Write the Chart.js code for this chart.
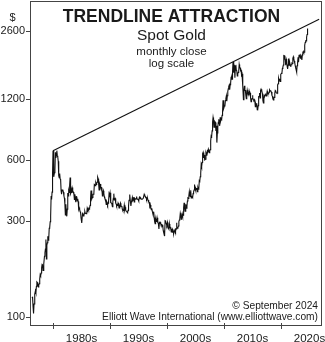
<!DOCTYPE html>
<html>
<head>
<meta charset="utf-8">
<script src="https://cdn.jsdelivr.net/npm/chart.js@4.4.1/dist/chart.umd.min.js"></script>
<style>
  html, body { margin: 0; padding: 0; background: #fff; }
  #wrap { width: 325px; height: 342px; }
</style>
</head>
<body>
<div id="wrap"><canvas id="goldChart" width="325" height="342"></canvas></div>
<script>
// spot gold, monthly closes in US$, May 1976 .. Sep 2024
const startYear = 1976;
const startMonth = 5;
const monthlyClose = [
  126, 124, 112, 104, 116, 123, 130, 135,
  132, 142, 149, 148, 143, 141, 144, 146, 154, 162, 160, 165,
  175, 182, 181, 170, 184, 183, 200, 208, 217, 242, 194, 226,
  233, 251, 240, 245, 275, 277, 296, 315, 397, 382, 415, 512,
  665, 637, 494, 518, 535, 653, 614, 631, 666, 629, 619, 590,
  500, 489, 513, 482, 480, 422, 406, 425, 428, 427, 414, 397,
  387, 362, 320, 361, 326, 315, 342, 411, 397, 423, 414, 448,
  490, 408, 414, 429, 437, 413, 422, 414, 405, 382, 405, 382,
  370, 395, 394, 375, 384, 373, 342, 348, 341, 333, 329, 309,
  303, 292, 325, 322, 316, 317, 327, 333, 326, 326, 325, 327,
  345, 339, 345, 340, 342, 346, 357, 384, 423, 401, 383, 391,
  405, 405, 409, 453, 451, 447, 462, 453, 460, 465, 492, 484,
  458, 426, 457, 449, 455, 436, 437, 427, 397, 412, 422, 410,
  394, 387, 383, 377, 361, 373, 368, 359, 366, 375, 408, 401,
  412, 407, 368, 367, 363, 352, 372, 387, 408, 380, 384, 386,
  366, 363, 355, 358, 357, 367, 362, 347, 354, 357, 366, 353,
  354, 353, 341, 336, 337, 343, 357, 340, 349, 339, 334, 333,
  330, 328, 337, 354, 378, 378, 404, 372, 355, 370, 370, 391,
  377, 381, 392, 371, 387, 385, 384, 385, 395, 383, 383, 383,
  375, 376, 392, 389, 385, 387, 383, 383, 383, 383, 387, 387,
  405, 400, 396, 392, 391, 382, 385, 387, 379, 379, 371, 369,
  345, 358, 348, 340, 345, 334, 326, 325, 332, 311, 296, 290,
  305, 297, 301, 310, 293, 296, 288, 273, 294, 292, 294, 288,
  287, 288, 280, 286, 268, 262, 256, 255, 300, 299, 292, 290,
  284, 294, 279, 275, 272, 289, 277, 278, 273, 264, 270, 273,
  265, 267, 258, 264, 268, 271, 266, 273, 293, 279, 275, 277,
  282, 297, 302, 308, 326, 318, 305, 313, 324, 316, 319, 347,
  368, 350, 334, 336, 361, 346, 354, 375, 388, 386, 398, 417,
  399, 395, 424, 388, 393, 395, 391, 408, 416, 425, 453, 435,
  422, 435, 428, 435, 417, 437, 429, 433, 473, 470, 495, 513,
  569, 556, 582, 644, 653, 613, 633, 624, 600, 604, 646, 632,
  650, 665, 662, 677, 659, 650, 665, 673, 743, 789, 783, 834,
  923, 971, 934, 871, 885, 930, 918, 833, 884, 730, 814, 869,
  919, 952, 916, 884, 975, 934, 955, 949, 996, 1040, 1182, 1088,
  1078, 1109, 1115, 1180, 1207, 1244, 1169, 1246, 1307, 1346, 1383, 1405,
  1333, 1411, 1439, 1535, 1536, 1505, 1628, 1830, 1620, 1722, 1746, 1531,
  1744, 1770, 1662, 1651, 1559, 1598, 1622, 1648, 1776, 1720, 1714, 1657,
  1664, 1579, 1598, 1469, 1394, 1192, 1314, 1394, 1326, 1324, 1253, 1205,
  1251, 1326, 1292, 1288, 1250, 1315, 1285, 1286, 1217, 1164, 1182, 1206,
  1251, 1214, 1187, 1180, 1191, 1171, 1098, 1135, 1115, 1142, 1061, 1060,
  1111, 1234, 1237, 1285, 1214, 1321, 1342, 1309, 1322, 1273, 1178, 1146,
  1212, 1248, 1245, 1266, 1266, 1242, 1269, 1311, 1283, 1271, 1275, 1297,
  1331, 1318, 1324, 1315, 1298, 1250, 1237, 1202, 1187, 1215, 1222, 1279,
  1321, 1313, 1292, 1284, 1283, 1409, 1427, 1520, 1485, 1511, 1465, 1515,
  1589, 1609, 1608, 1702, 1728, 1768, 1970, 1968, 1886, 1879, 1762, 1895,
  1863, 1743, 1691, 1769, 1903, 1763, 1814, 1814, 1743, 1769, 1774, 1806,
  1797, 1909, 1942, 1897, 1849, 1817, 1753, 1711, 1672, 1633, 1753, 1812,
  1928, 1827, 1969, 1990, 1963, 1912, 1965, 1942, 1871, 1984, 2036, 2063,
  2039, 2045, 2214, 2286, 2327, 2327, 2427, 2503, 2680
];

// trendline through the 1980 and 2011 highs
const trendStart = [1980.0, 665];
const trendEnd = [2026.7, 2980];

const yTicks = [100, 300, 600, 1200, 2600];
const decadeTicks = [1980, 1990, 2000, 2010, 2020];

const FONT = '"Liberation Sans", Arial, Helvetica, sans-serif';
const INK = '#1a1a1a';
const FRAME = '#444';

const goldPoints = monthlyClose.map((v, i) => ({
  x: startYear + (startMonth - 1 + i) / 12,
  y: v
}));

const trendPoints = [
  { x: trendStart[0], y: trendStart[1] },
  { x: trendEnd[0], y: trendEnd[1] }
];

// frame, tick marks and the text inside the plot
const decorations = {
  id: 'decorations',
  afterDraw(chart) {
    const ctx = chart.ctx;
    const area = chart.chartArea;
    const xs = chart.scales.x;
    const ys = chart.scales.y;

    ctx.save();
    ctx.strokeStyle = FRAME;
    ctx.lineWidth = 1;
    ctx.strokeRect(Math.round(area.left) + 0.5, Math.round(area.top) + 0.5,
      Math.round(area.right - area.left) - 1, Math.round(area.bottom - area.top) - 1);

    ctx.beginPath();
    decadeTicks.forEach(t => {
      const px = Math.round(xs.getPixelForValue(t)) + 0.5;
      ctx.moveTo(px, area.bottom - 3);
      ctx.lineTo(px, area.bottom + 3);
    });
    yTicks.forEach(t => {
      const py = Math.round(ys.getPixelForValue(t)) + 0.5;
      ctx.moveTo(area.left - 4, py);
      ctx.lineTo(area.left, py);
    });
    ctx.stroke();

    ctx.fillStyle = INK;
    ctx.textAlign = 'center';
    ctx.textBaseline = 'alphabetic';
    ctx.font = 'bold 17.5px ' + FONT;
    ctx.fillText('TRENDLINE ATTRACTION', 171.5, 22);
    ctx.font = '15.5px ' + FONT;
    ctx.fillText('Spot Gold', 171.5, 40);
    ctx.font = '11.5px ' + FONT;
    ctx.fillText('monthly close', 171.5, 55);
    ctx.fillText('log scale', 171.5, 67);

    ctx.font = '11px ' + FONT;
    ctx.fillText('$', 12.5, 21);

    ctx.textAlign = 'right';
    ctx.font = '10.2px ' + FONT;
    ctx.fillText('\u00A9 September 2024', 318, 308.5);
    ctx.fillText('Elliott Wave International (www.elliottwave.com)', 318, 319.5);
    ctx.restore();
  }
};

new Chart(document.getElementById('goldChart'), {
  type: 'line',
  data: {
    datasets: [
      {
        data: goldPoints,
        borderColor: '#111',
        borderWidth: 1.1,
        pointRadius: 0,
        tension: 0
      },
      {
        data: trendPoints,
        borderColor: '#111',
        borderWidth: 1.1,
        pointRadius: 0
      }
    ]
  },
  options: {
    responsive: false,
    animation: false,
    events: [],
    layout: { padding: { top: 1, right: 3, left: 0, bottom: 0 } },
    plugins: {
      legend: { display: false },
      tooltip: { enabled: false }
    },
    scales: {
      x: {
        type: 'linear',
        bounds: 'data',
        min: 1975.96,
        max: 2027.2,
        afterBuildTicks: scale => { scale.ticks = decadeTicks.map(v => ({ value: v })); },
        afterFit: scale => {
          scale.height = 16;
          scale.paddingLeft = 0;
          scale.paddingRight = 0;
        },
        grid: { display: false, drawTicks: true, tickLength: 4 },
        border: { display: false },
        ticks: {
          color: INK,
          font: { family: FONT, size: 11.5 },
          padding: 2,
          labelOffset: 28.5,
          maxRotation: 0,
          autoSkip: false,
          callback: v => v + 's'
        }
      },
      y: {
        type: 'logarithmic',
        bounds: 'data',
        min: 90.24,
        max: 3667,
        afterBuildTicks: scale => { scale.ticks = yTicks.map(v => ({ value: v })); },
        afterFit: scale => {
          scale.width = 30;
          scale.paddingTop = 0;
          scale.paddingBottom = 0;
        },
        grid: { display: false, drawTicks: true, tickLength: 4 },
        border: { display: false },
        ticks: {
          color: INK,
          font: { family: FONT, size: 11 },
          padding: 1,
          autoSkip: false,
          callback: v => String(v)
        }
      }
    }
  },
  plugins: [decorations]
});
</script>
</body>
</html>
